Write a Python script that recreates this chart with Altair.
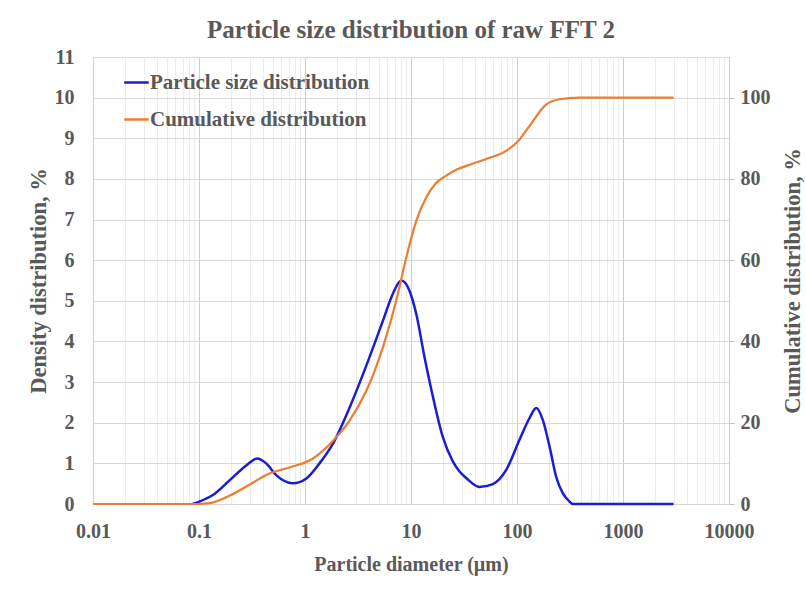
import json
import altair as alt
import pandas as pd

chart_title = "Particle size distribution of raw FFT 2"
series_names = ["Particle size distribution", "Cumulative distribution"]
series_colors = ["#1c1cd4", "#ED7D31"]

# Density distribution (left axis)
psd_d = [0.087, 0.101, 0.135, 0.194, 0.279, 0.354, 0.430, 0.535, 0.767, 1.03, 1.37, 1.83,
         2.63, 3.78, 5.42, 6.73, 8.08, 9.68, 11.2, 13.4, 16.1, 19.95, 24.8, 28.7, 33.2,
         44.3, 59.1, 79.1, 105.6, 131, 152, 175, 203, 234, 271, 313, 336, 500, 1000, 3000]
psd_v = [0.0, 0.06, 0.22, 0.58, 0.95, 1.12, 1.0, 0.71, 0.51, 0.63, 1.0, 1.48,
         2.37, 3.4, 4.5, 5.17, 5.5, 5.25, 4.68, 3.62, 2.64, 1.65, 1.05, 0.8, 0.64,
         0.42, 0.49, 0.84, 1.58, 2.11, 2.36, 2.07, 1.41, 0.67, 0.26, 0.06, 0.0, 0.0, 0.0, 0.0]

# Cumulative distribution (right axis)
cum_d = [0.01, 0.1, 0.126, 0.2, 0.279, 0.463, 0.714, 1.19, 1.83, 2.63, 3.78, 5.42, 7.25,
         9.01, 11.2, 13.9, 17.0, 21.5, 27.0, 33.2, 51.2, 79.1, 100, 131, 188, 252, 388, 3000]
cum_v = [0.0, 0.0, 0.2, 2.2, 4.3, 7.5, 9.0, 11.2, 15.5, 20.5, 27.8, 38.5, 50.0,
         60.6, 69.6, 75.4, 78.8, 80.8, 82.3, 83.2, 84.9, 86.9, 89.0, 93.0, 98.3, 99.6, 100.0, 100.0]

x_tick_labels = ["0.01", "0.1", "1", "10", "100", "1000", "10000"]
x_grid_values = [m * 10.0 ** e for e in range(-2, 4) for m in range(1, 10)] + [10000.0]
left_ticks = list(range(0, 12))
right_ticks = [0, 20, 40, 60, 80, 100]

df = pd.concat([
    pd.DataFrame({"d": psd_d, "v": psd_v, "series": series_names[0]}),
    pd.DataFrame({"d": cum_d, "v": cum_v, "series": series_names[1]}),
])

FONT = "Liberation Serif"
TXT = "#595959"

label_expr = ("indexof(" + json.dumps(x_tick_labels) + ", format(datum.value, '~g')) >= 0"
              " ? format(datum.value, '~g') : ''")
decade_test = "abs(log(datum.value)/log(10) - round(log(datum.value)/log(10))) < 0.001"

x_enc = alt.X(
    "d:Q",
    scale=alt.Scale(type="log", domain=[0.01, 10000], nice=False),
    axis=alt.Axis(
        values=x_grid_values, labelExpr=label_expr, labelOverlap=False, labelFlush=False,
        grid=True,
        gridColor={"condition": {"test": decade_test, "value": "#cfcfcf"}, "value": "#ececec"},
        domain=False, ticks=False, labelPadding=17,
        labelFont=FONT, labelFontSize=20, labelFontWeight="bold", labelColor=TXT,
        title="Particle diameter (\u00b5m)", titleFont=FONT, titleFontSize=20,
        titleFontWeight="bold", titleColor=TXT, titlePadding=13,
    ),
)

color_enc = alt.Color(
    "series:N",
    scale=alt.Scale(domain=series_names, range=series_colors),
    legend=alt.Legend(
        title=None, orient="none", legendX=30, legendY=12, direction="vertical",
        symbolType="stroke", symbolSize=600, symbolStrokeWidth=2.5,
        labelFont=FONT, labelFontSize=21, labelFontWeight="bold", labelColor=TXT,
        labelLimit=0, rowPadding=13, labelOffset=0,
    ),
)

base = alt.Chart(df)

psd = base.transform_filter(alt.datum.series == series_names[0]).mark_line(
    strokeWidth=2.5, interpolate="monotone"
).encode(
    x=x_enc,
    y=alt.Y(
        "v:Q",
        scale=alt.Scale(domain=[0, 11], nice=False),
        axis=alt.Axis(
            orient="left", values=left_ticks, grid=True, gridColor="#d9d9d9",
            domain=False, ticks=False, labelPadding=19,
            labelFont=FONT, labelFontSize=20, labelFontWeight="bold", labelColor=TXT,
            title="Density distribution, %", titleFont=FONT, titleFontSize=22.5,
            titleFontWeight="bold", titleColor=TXT, titlePadding=4,
        ),
    ),
    color=color_enc,
)

cum = base.transform_filter(alt.datum.series == series_names[1]).mark_line(
    strokeWidth=2.2, interpolate="monotone"
).encode(
    x=x_enc,
    y=alt.Y(
        "v:Q",
        scale=alt.Scale(domain=[0, 110], nice=False),
        axis=alt.Axis(
            orient="right", values=right_ticks, grid=False,
            domain=False, ticks=True, tickSize=5, tickColor="#bfbfbf", labelPadding=6,
            labelFont=FONT, labelFontSize=20, labelFontWeight="bold", labelColor=TXT,
            title="Cumulative distribution, %", titleFont=FONT, titleFontSize=22.5,
            titleFontWeight="bold", titleColor=TXT, titlePadding=34, titleAngle=270,
        ),
    ),
    color=color_enc,
)

chart = alt.layer(psd, cum).resolve_scale(y="independent").properties(
    width=636, height=447,
    autosize=alt.AutoSizeParams(type="none"),
    padding={"left": 93, "top": 57, "right": 77, "bottom": 85},
    title=alt.TitleParams(chart_title, font=FONT, fontSize=25, fontWeight="bold",
                          color=TXT, offset=4, anchor="middle"),
).configure_view(stroke=None).configure(background="white")

chart.save("out.html", embed_options={"renderer": "svg", "actions": False})
